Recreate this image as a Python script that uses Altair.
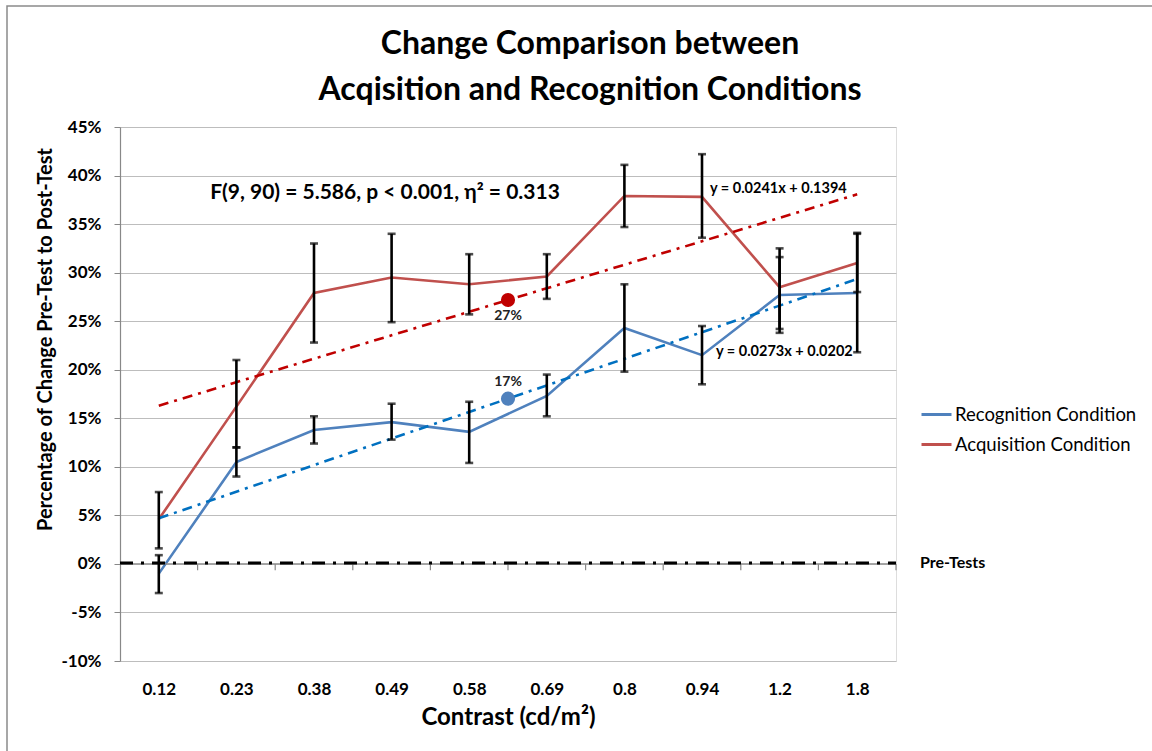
import altair as alt
import pandas as pd

categories = ["0.12", "0.23", "0.38", "0.49", "0.58", "0.69", "0.8", "0.94", "1.2", "1.8"]
series_names = ["Recognition Condition", "Acquisition Condition"]

recognition = [-1.0, 10.5, 13.8, 14.6, 13.6, 17.3, 24.3, 21.5, 27.7, 27.9]
recognition_lo = [-3.0, 9.0, 12.4, 12.8, 10.4, 15.2, 19.8, 18.5, 23.8, 21.8]
recognition_hi = [0.9, 12.0, 15.2, 16.5, 16.7, 19.5, 28.8, 24.5, 31.6, 34.1]

acquisition = [4.6, 16.2, 27.9, 29.5, 28.8, 29.6, 37.9, 37.8, 28.5, 31.0]
acquisition_lo = [1.6, 12.0, 22.8, 24.9, 25.7, 27.3, 34.7, 33.6, 24.2, 28.0]
acquisition_hi = [7.4, 21.0, 33.0, 34.0, 31.9, 31.9, 41.1, 42.2, 32.5, 34.0]

pretest_level = 0.1  # percent
y_ticks = [-10, -5, 0, 5, 10, 15, 20, 25, 30, 35, 40, 45]

title_lines = ["Change Comparison between", "Acqisition and Recognition Conditions"]
stat_text = "F(9, 90) = 5.586, p < 0.001, η² = 0.313"
eq_acq = "y = 0.0241x + 0.1394"
eq_rec = "y = 0.0273x + 0.0202"

rows = []
for name, vals, lo, hi in [
    (series_names[0], recognition, recognition_lo, recognition_hi),
    (series_names[1], acquisition, acquisition_lo, acquisition_hi),
]:
    for i, c in enumerate(categories):
        rows.append(dict(idx=i + 1, cat=c, series=name,
                         value=vals[i] / 100, lo=lo[i] / 100, hi=hi[i] / 100))
df = pd.DataFrame(rows)

W, H = 776, 534
FONT = "Lato"
BLUE, RED = "#4F81BD", "#C0504D"
TBLUE, TRED = "#0070C0", "#C00000"
DASHDOT = [10, 6, 3, 6]

xscale = alt.Scale(domain=[0.5, len(categories) + 0.5], nice=False, zero=False)
yscale = alt.Scale(domain=[y_ticks[0] / 100, y_ticks[-1] / 100], nice=False, zero=False)

label_expr = "[" + ",".join(f"'{c}'" for c in categories) + "][datum.value - 1]"

x_axis = alt.Axis(values=list(range(1, len(categories) + 1)), labelExpr=label_expr,
                  title="Contrast (cd/m²)", domain=False, ticks=False, grid=False,
                  labelFontSize=17, labelFontWeight="bold", labelFont=FONT, labelColor="black",
                  labelPadding=20, titleFontSize=24, titleFontWeight="bold", titleFont=FONT,
                  titleColor="black", titlePadding=8)
y_axis = alt.Axis(values=[t / 100 for t in y_ticks],
                  labelExpr="replace(format(datum.value, '.0%'), '\u2212', '-')",
                  title="Percentage of Change Pre-Test to Post-Test",
                  grid=True, gridColor="#BDBDBD", gridWidth=1.2,
                  domainColor="#888888", domainWidth=1.2, tickColor="#888888", tickSize=6,
                  labelFontSize=17, labelFontWeight="bold", labelFont=FONT, labelColor="black",
                  labelPadding=13, titleFontSize=20, titleFontWeight="bold", titleFont=FONT,
                  titleColor="black", titleX=-75, titleY=212, titleBaseline="middle")

base = alt.Chart(df)

X = alt.X("idx:Q", scale=xscale, axis=x_axis)
Y = alt.Y("value:Q", scale=yscale, axis=y_axis)

border = alt.Chart(pd.DataFrame({"k": [0]})).mark_rect(fill=None, stroke="#8a8a8a", strokeWidth=1.5).encode(
    x=alt.value(-113), x2=alt.value(W + 400), y=alt.value(-121), y2=alt.value(H + 300))

one = base.transform_filter(alt.datum.series == series_names[0])

xaxis_line = one.transform_aggregate(ax_min="min(idx)", ax_max="max(idx)").transform_calculate(
    a="datum.ax_min - 0.5", b="datum.ax_max + 0.5", z="0").mark_rule(color="#888888", strokeWidth=1.2).encode(
    x=alt.X("a:Q", scale=xscale), x2="b:Q", y=alt.Y("z:Q", scale=yscale))

xticks = one.transform_calculate(tx="datum.idx + 0.5", z0="0", z1="-0.0065").mark_rule(
    color="#888888", strokeWidth=1.2).encode(
    x=alt.X("tx:Q", scale=xscale), y=alt.Y("z0:Q", scale=yscale), y2="z1:Q")

pretest = alt.Chart(pd.DataFrame({"lvl": [pretest_level / 100]})).mark_rule(
    color="black", strokeWidth=3, strokeDash=[13, 8, 3, 8]).encode(
    x=alt.value(0), x2=alt.value(W), y=alt.Y("lvl:Q", scale=yscale))

pretest_label = alt.Chart(pd.DataFrame({"lvl": [pretest_level / 100], "t": ["Pre-Tests"]})).mark_text(
    align="left", baseline="middle", fontSize=16, font=FONT, fontWeight="bold", color="black").encode(
    x=alt.value(800), y=alt.Y("lvl:Q", scale=yscale), text="t:N")

lines = base.mark_line(strokeWidth=2.6).encode(
    x=X, y=Y,
    color=alt.Color("series:N", scale=alt.Scale(domain=series_names, range=[BLUE, RED]),
                    legend=alt.Legend(orient="none", legendX=800, legendY=271, title=None,
                                      symbolType="stroke", symbolSize=900, symbolStrokeWidth=3,
                                      labelFontSize=18.5, labelFont=FONT, labelColor="black",
                                      labelLimit=0, rowPadding=4, labelOffset=2, padding=0)),
    order="idx:Q")

def trend(name, color):
    return base.transform_filter(alt.datum.series == name).transform_regression(
        "idx", "value").mark_line(color=color, strokeWidth=2.6, strokeDash=DASHDOT).encode(
        x=alt.X("idx:Q", scale=xscale), y=alt.Y("value:Q", scale=yscale))

err = base.mark_rule(color="black", strokeWidth=2.6).encode(
    x=alt.X("idx:Q", scale=xscale), y=alt.Y("lo:Q", scale=yscale), y2="hi:Q")
cap_lo = base.mark_tick(orient="horizontal", size=8, thickness=2.6, color="black").encode(
    x=alt.X("idx:Q", scale=xscale), y=alt.Y("lo:Q", scale=yscale))
cap_hi = base.mark_tick(orient="horizontal", size=8, thickness=2.6, color="black").encode(
    x=alt.X("idx:Q", scale=xscale), y=alt.Y("hi:Q", scale=yscale))

def mean_dot(name, color, dy, key):
    m = base.transform_filter(alt.datum.series == name).transform_aggregate(
        **{f"{key}_x": "mean(idx)", f"{key}_y": "mean(value)"})
    dot = m.mark_circle(size=200, color=color, opacity=1).encode(
        x=alt.X(f"{key}_x:Q", scale=xscale), y=alt.Y(f"{key}_y:Q", scale=yscale))
    lab = m.mark_text(dy=dy, fontSize=14, fontWeight="bold", font=FONT, color="#222222").encode(
        x=alt.X(f"{key}_x:Q", scale=xscale), y=alt.Y(f"{key}_y:Q", scale=yscale),
        text=alt.Text(f"{key}_y:Q", format=".0%"))
    return dot + lab

def label(text, x, y, size, align="left", baseline="middle"):
    return alt.Chart(pd.DataFrame({"t": [text]})).mark_text(
        font=FONT, fontSize=size, fontWeight="bold", color="black",
        baseline=baseline, align=align).encode(x=alt.value(x), y=alt.value(y), text="t:N")

stat = label(stat_text, 265, 66, 21, align="center")
eq1 = label(eq_acq, 590, 62, 14.5)
eq2 = label(eq_rec, 596, 225, 14.5)
title1 = label(title_lines[0], 470, -73.5, 32, align="center", baseline="alphabetic")
title2 = label(title_lines[1], 470, -27, 32, align="center", baseline="alphabetic")

chart = alt.layer(
    lines, border, xaxis_line, xticks, pretest, pretest_label,
    trend(series_names[0], TBLUE), trend(series_names[1], TRED),
    err, cap_lo, cap_hi,
    mean_dot(series_names[0], BLUE, -17, "rec"), mean_dot(series_names[1], "#C00000", 16, "acq"),
    stat, eq1, eq2, title1, title2,
).properties(
    width=W, height=H,
    autosize=alt.AutoSizeParams(type="none"),
    padding={"left": 120, "top": 127, "right": 256, "bottom": 90},
).configure_view(stroke=None).configure(background="white")

chart.save("out.html", embed_options={"renderer": "svg", "actions": False})
